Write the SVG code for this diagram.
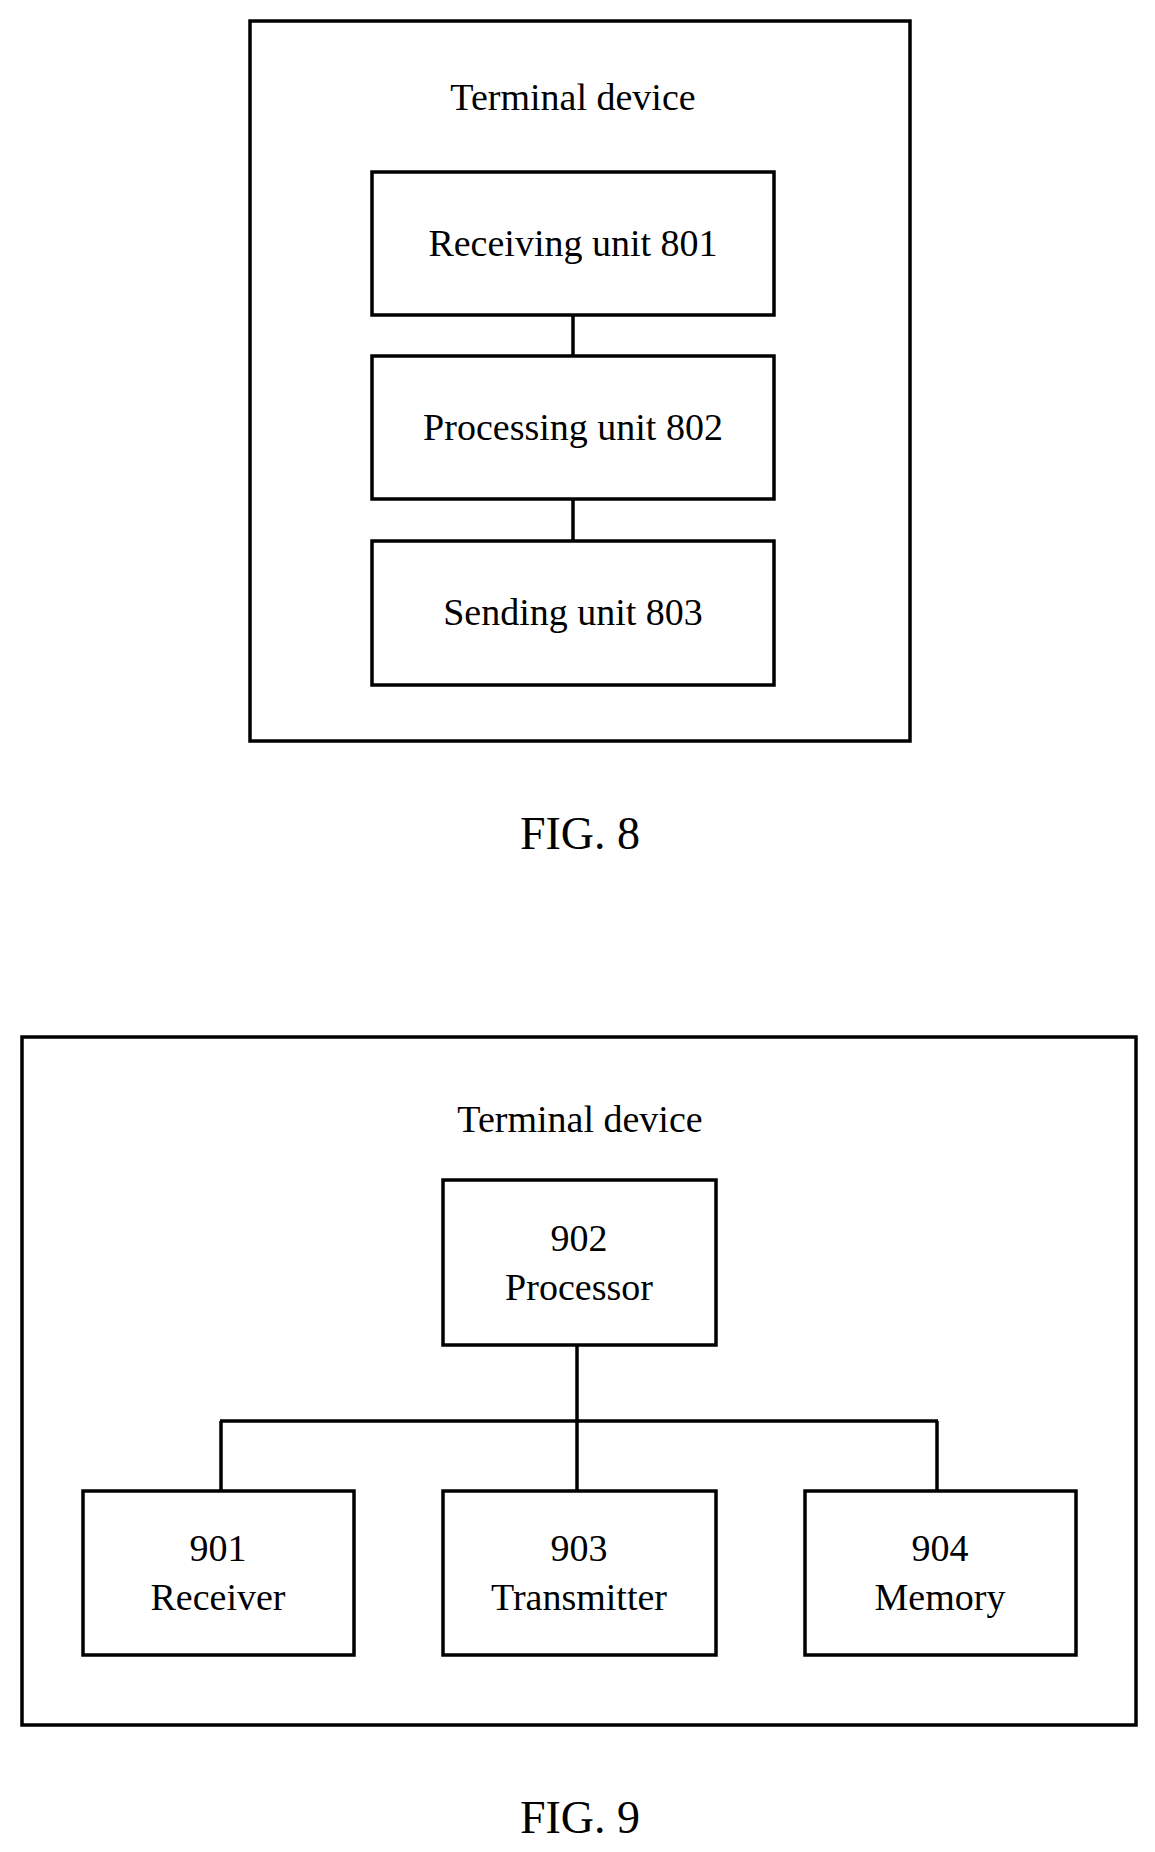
<svg xmlns="http://www.w3.org/2000/svg" width="1155" height="1852" viewBox="0 0 1155 1852">
<style>
rect{fill:none;stroke:#000;stroke-width:3.5}
line{stroke:#000;stroke-width:3.5}
text{font-family:"Liberation Serif",serif;font-size:38px;text-anchor:middle;fill:#000}
.fig{font-size:46px}
</style>
<rect width="1155" height="1852" fill="#fff" stroke="none" style="fill:#fff;stroke:none"/>
<g id="fig8-device"><rect x="250" y="21" width="660" height="720"/><text x="573" y="110">Terminal device</text></g>
<g id="n801"><rect x="372" y="172" width="402" height="143"/><text x="573" y="256">Receiving unit 801</text></g>
<g id="n802"><rect x="372" y="356" width="402" height="143"/><text x="573" y="440">Processing unit 802</text></g>
<g id="n803"><rect x="372" y="541" width="402" height="144"/><text x="573" y="625">Sending unit 803</text></g>
<g id="fig8-connectors"><line x1="573" y1="315" x2="573" y2="356"/><line x1="573" y1="499" x2="573" y2="541"/></g>
<text class="fig" x="580" y="849">FIG. 8</text>
<g id="fig9-device"><rect x="22" y="1037" width="1114" height="688"/><text x="580" y="1132">Terminal device</text></g>
<g id="n902"><rect x="443" y="1180" width="273" height="165"/><text x="579" y="1251">902</text><text x="579" y="1300">Processor</text></g>
<g id="n901"><rect x="83" y="1491" width="271" height="164"/><text x="218" y="1561">901</text><text x="218" y="1610">Receiver</text></g>
<g id="n903"><rect x="443" y="1491" width="273" height="164"/><text x="579" y="1561">903</text><text x="579" y="1610">Transmitter</text></g>
<g id="n904"><rect x="805" y="1491" width="271" height="164"/><text x="940" y="1561">904</text><text x="940" y="1610">Memory</text></g>
<g id="fig9-connectors"><line x1="577" y1="1345" x2="577" y2="1491"/><line x1="220" y1="1421" x2="938" y2="1421"/><line x1="221" y1="1421" x2="221" y2="1491"/><line x1="937" y1="1421" x2="937" y2="1491"/></g>
<text class="fig" x="580" y="1833">FIG. 9</text>
</svg>
